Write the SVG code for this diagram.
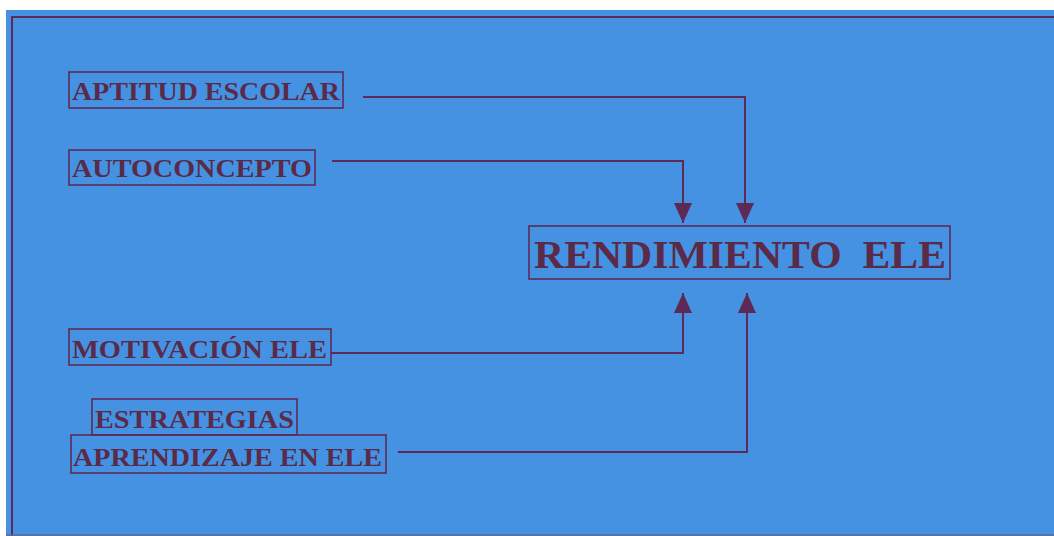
<svg xmlns="http://www.w3.org/2000/svg" width="1054" height="536" viewBox="0 0 1054 536">
<style>
.bg{fill:#4592E3}
.frame{fill:none;stroke:#5E2A55;stroke-width:2}
.box{fill:none;stroke:#5E2A55;stroke-width:1.6}
.lbl{font-family:"Liberation Serif","Times New Roman",serif;font-weight:bold;fill:#5A2A48;font-size:26px}
.big{font-size:41px}
.conn{fill:none;stroke:#5E2A55;stroke-width:2}
</style>
<defs>
<marker id="ah" viewBox="0 0 10 10" refX="10" refY="5" markerWidth="10" markerHeight="10" markerUnits="userSpaceOnUse" orient="auto">
<path d="M0,0 L10,5 L0,10 z" fill="#5E2A55"/>
</marker>
<marker id="ah2" viewBox="0 0 20 18" refX="20" refY="9" markerWidth="20" markerHeight="18" markerUnits="userSpaceOnUse" orient="auto">
<path d="M0,0 L20,9 L0,18 z" fill="#5E2A55"/>
</marker>
</defs>
<rect x="0" y="0" width="1054" height="536" fill="#ffffff"/>
<rect class="bg" x="6" y="10" width="1048" height="526"/>
<path class="frame" d="M12,536 V17 H1054"/>
<line x1="6" y1="535" x2="1054" y2="535" stroke="#5a6a9a" stroke-width="1.5"/>
<g id="connectors">
<path class="conn" d="M363,97 H745 V223" marker-end="url(#ah2)"/>
<path class="conn" d="M332,161 H683 V223" marker-end="url(#ah2)"/>
<path class="conn" d="M331,353 H683 V293" marker-end="url(#ah2)"/>
<path class="conn" d="M398,452 H747 V293" marker-end="url(#ah2)"/>
</g>
<g id="aptitud">
<rect class="box" x="69" y="72" width="274" height="36"/>
<text class="lbl" x="72" y="100" textLength="268" lengthAdjust="spacingAndGlyphs">APTITUD ESCOLAR</text>
</g>
<g id="autoconcepto">
<rect class="box" x="69" y="150" width="246" height="35"/>
<text class="lbl" x="72" y="177" textLength="240" lengthAdjust="spacingAndGlyphs">AUTOCONCEPTO</text>
</g>
<g id="rendimiento">
<rect class="box" x="529" y="226" width="421" height="53"/>
<text class="lbl big" x="534" y="268" textLength="412" lengthAdjust="spacingAndGlyphs" xml:space="preserve">RENDIMIENTO  ELE</text>
</g>
<g id="motivacion">
<rect class="box" x="69" y="329" width="262" height="36"/>
<text class="lbl" x="72" y="358" textLength="255" lengthAdjust="spacingAndGlyphs">MOTIVACIÓN ELE</text>
</g>
<g id="estrategias">
<rect class="box" x="92" y="399" width="205" height="36"/>
<text class="lbl" x="95" y="428" textLength="199" lengthAdjust="spacingAndGlyphs">ESTRATEGIAS</text>
<rect class="box" x="71" y="435" width="315" height="38"/>
<text class="lbl" x="73" y="466" textLength="309" lengthAdjust="spacingAndGlyphs">APRENDIZAJE EN ELE</text>
</g>
</svg>
